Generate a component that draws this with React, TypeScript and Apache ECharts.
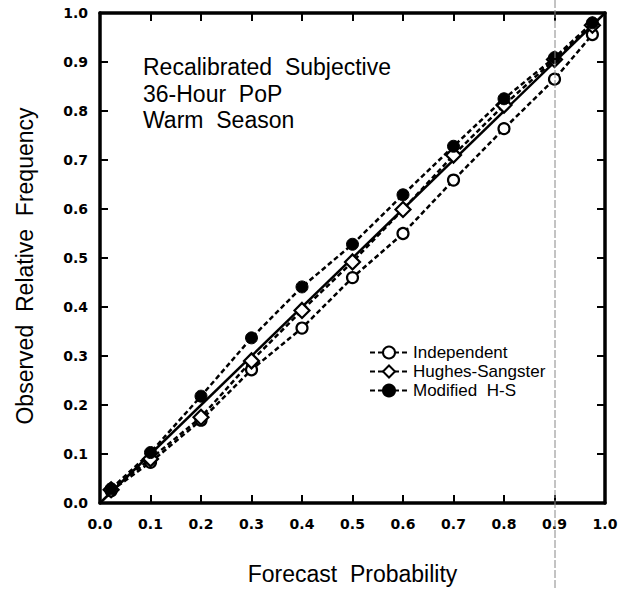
import React, { useEffect, useRef } from "react";
import * as echarts from "echarts";

const forecastProb = [0.022, 0.1, 0.2, 0.3, 0.4, 0.5, 0.6, 0.7, 0.8, 0.9, 0.975];
const independent = [0.025, 0.083, 0.169, 0.272, 0.357, 0.46, 0.55, 0.659, 0.764, 0.865, 0.956];
const hughesSangster = [0.027, 0.09, 0.175, 0.29, 0.393, 0.492, 0.599, 0.71, 0.812, 0.905, 0.975];
const modifiedHS = [0.029, 0.103, 0.218, 0.337, 0.441, 0.528, 0.629, 0.728, 0.825, 0.909, 0.98];
const perfectLine = [0, 1];
const tickValues = ["0.0", "0.1", "0.2", "0.3", "0.4", "0.5", "0.6", "0.7", "0.8", "0.9", "1.0"];
const titleLines = ["Recalibrated  Subjective", "36-Hour  PoP", "Warm  Season"];
const seriesNames = ["Independent", "Hughes-Sangster", "Modified  H-S"];

const FONT = "'Liberation Sans', Arial, Helvetica, sans-serif";
const TICK_FONT = "'DejaVu Sans', sans-serif";

export default function App() {
  const ref = useRef<HTMLDivElement>(null);
  useEffect(() => {
    document.body.style.margin = "0";
    const chart = echarts.init(ref.current!, null, { renderer: "svg" });
    const pair = (xs: number[], ys: number[]) => xs.map((x, i) => [x, ys[i]]);
    const axisCommon = {
      type: "value" as const,
      min: 0,
      max: 1,
      interval: 0.1,
      splitLine: { show: false },
      axisLine: { show: true, onZero: false, lineStyle: { color: "#000", width: 3.5 } },
      axisTick: { show: true, inside: true, length: 8, lineStyle: { color: "#000", width: 2 } },
    };
    const labelStyle = {
      color: "#000",
      fontFamily: TICK_FONT,
      fontSize: 14,
      fontWeight: "bold" as const,
      formatter: (v: number) => tickValues[Math.round(v * 10)],
    };
    const dashed = { color: "#000", width: 2.5, type: [5, 3] as number[] };
    chart.setOption({
      animation: false,
      textStyle: { fontFamily: FONT },
      grid: { left: 100, right: 22, top: 13, bottom: 81 },
      xAxis: [
        {
          ...axisCommon,
          position: "bottom",
          name: "Forecast  Probability",
          nameLocation: "middle",
          nameGap: 59,
          nameTextStyle: { color: "#000", fontFamily: FONT, fontSize: 23 },
          axisLabel: { ...labelStyle, margin: 14 },
        },
        { ...axisCommon, position: "top", axisLabel: { show: false } },
      ],
      yAxis: [
        {
          ...axisCommon,
          position: "left",
          name: "Observed  Relative  Frequency",
          nameLocation: "middle",
          nameGap: 64,
          nameTextStyle: { color: "#000", fontFamily: FONT, fontSize: 23, padding: [0, 16, 0, 0] },
          axisLabel: { ...labelStyle, margin: 12 },
        },
        { ...axisCommon, position: "right", axisLabel: { show: false } },
      ],
      legend: {
        data: seriesNames,
        orient: "vertical",
        left: 364,
        top: 339,
        itemWidth: 38,
        itemHeight: 15,
        itemGap: 2,
        textStyle: { color: "#000", fontFamily: FONT, fontSize: 17 },
      },
      graphic: [
        {
          type: "text",
          left: 143,
          top: 54,
          style: {
            text: titleLines.join("\n"),
            fill: "#000",
            font: `23px ${FONT}`,
            lineHeight: 26.5,
          },
        },
        {
          type: "line",
          shape: { x1: 555, y1: 0, x2: 555, y2: 590 },
          style: { stroke: "#888", lineWidth: 1, lineDash: [8, 2] },
          z: 100,
        },
      ],
      series: [
        {
          type: "line",
          name: "perfect",
          data: pair(perfectLine, perfectLine),
          symbol: "none",
          lineStyle: { color: "#000", width: 2.5 },
          z: 1,
        },
        {
          type: "line",
          name: seriesNames[0],
          data: pair(forecastProb, independent),
          symbol: "circle",
          symbolSize: 11,
          itemStyle: { color: "#fff", borderColor: "#000", borderWidth: 2.2 },
          lineStyle: dashed,
          z: 2,
        },
        {
          type: "line",
          name: seriesNames[1],
          data: pair(forecastProb, hughesSangster),
          symbol: "diamond",
          symbolSize: 15,
          itemStyle: { color: "#fff", borderColor: "#000", borderWidth: 2.2 },
          lineStyle: dashed,
          z: 3,
        },
        {
          type: "line",
          name: seriesNames[2],
          data: pair(forecastProb, modifiedHS),
          symbol: "circle",
          symbolSize: 12,
          itemStyle: { color: "#000", borderColor: "#000", borderWidth: 1 },
          lineStyle: dashed,
          z: 4,
        },
      ],
    });
    return () => chart.dispose();
  }, []);
  return <div ref={ref} style={{ width: 627, height: 590 }} />;
}
